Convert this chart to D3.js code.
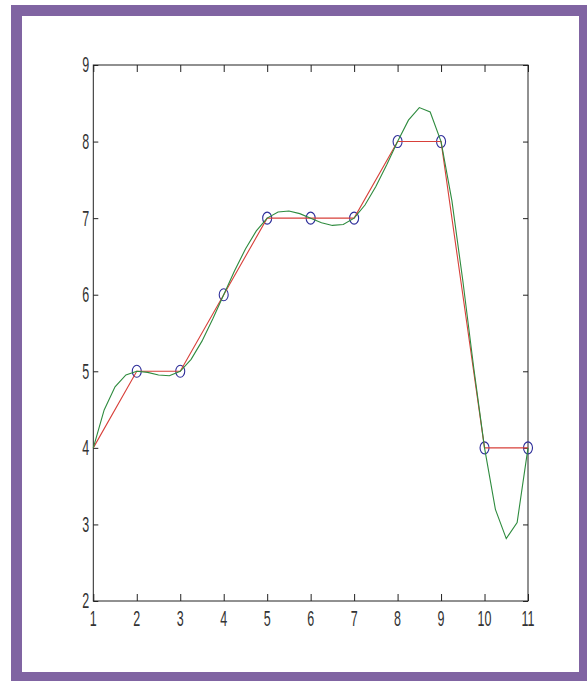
<!DOCTYPE html>
<html>
<head>
<meta charset="utf-8">
<script src="https://cdn.jsdelivr.net/npm/d3@7"></script>
<style>
  html, body { margin: 0; padding: 0; background: #ffffff; }
  svg { display: block; }
</style>
</head>
<body>
<svg id="chart" width="587" height="681"></svg>
<script>
// ---- data ----
const xTicks = [1, 2, 3, 4, 5, 6, 7, 8, 9, 10, 11];
const yTicks = [2, 3, 4, 5, 6, 7, 8, 9];
const knotX = [1, 2, 3, 4, 5, 6, 7, 8, 9, 10, 11];
const knotY = [4, 5, 5, 6, 7, 7, 7, 8, 8, 4, 4];
const markerX = [2, 3, 4, 5, 6, 7, 8, 9, 10, 11];
const markerY = [5, 5, 6, 7, 7, 7, 8, 8, 4, 4];
const splineX = [1, 1.25, 1.5, 1.75, 2, 2.25, 2.5, 2.75, 3, 3.25, 3.5, 3.75, 4, 4.25, 4.5, 4.75,
  5, 5.25, 5.5, 5.75, 6, 6.25, 6.5, 6.75, 7, 7.25, 7.5, 7.75, 8, 8.25, 8.5, 8.75,
  9, 9.25, 9.5, 9.75, 10, 10.25, 10.5, 10.75, 11];
const splineY = [4, 4.495, 4.798, 4.952, 5, 4.986, 4.952, 4.942, 5, 5.156, 5.394, 5.685,
  6, 6.312, 6.597, 6.834, 7, 7.081, 7.093, 7.059, 7, 6.941, 6.905, 6.916,
  7, 7.171, 7.413, 7.698, 8, 8.280, 8.444, 8.386, 8, 7.225, 6.185, 5.053,
  4, 3.197, 2.815, 3.025, 4];

// ---- layout ----
const svg = d3.select("#chart");
const L = 93.3, R = 528, T = 65, B = 601;

// purple frame
svg.append("rect").attr("x", 11).attr("y", 5).attr("width", 576).attr("height", 676).attr("fill", "#8064a2");
svg.append("rect").attr("x", 22).attr("y", 16).attr("width", 557).attr("height", 656).attr("fill", "#ffffff");

const x = d3.scaleLinear().domain([1, 11]).range([L, R]);
const y = d3.scaleLinear().domain([2, 9]).range([B, T]);

const g = svg.append("g");

// ticks (inward, all four sides)
const axisColor = "#222";
const tickStyle = sel => sel.select(".domain").remove();
g.append("g").attr("transform", `translate(0,${B})`)
  .call(d3.axisBottom(x).tickValues(xTicks).tickSize(-7).tickFormat(""))
  .call(tickStyle).selectAll("line").attr("stroke", axisColor);
g.append("g").attr("transform", `translate(0,${T})`)
  .call(d3.axisTop(x).tickValues(xTicks).tickSize(-7).tickFormat(""))
  .call(tickStyle).selectAll("line").attr("stroke", axisColor);
g.append("g").attr("transform", `translate(${L},0)`)
  .call(d3.axisLeft(y).tickValues(yTicks).tickSize(-5).tickFormat(""))
  .call(tickStyle).selectAll("line").attr("stroke", axisColor);
g.append("g").attr("transform", `translate(${R},0)`)
  .call(d3.axisRight(y).tickValues(yTicks).tickSize(-5).tickFormat(""))
  .call(tickStyle).selectAll("line").attr("stroke", axisColor);

// tick labels (tall narrow glyphs)
const fs = 12.5, sy = 1.75;
xTicks.forEach(v => {
  svg.append("text")
    .attr("transform", `translate(${x(v)},${B + 9}) scale(1,${sy})`)
    .attr("text-anchor", "middle")
    .attr("dominant-baseline", "hanging")
    .attr("font-family", "Liberation Sans, Arial, sans-serif")
    .attr("font-size", fs)
    .attr("fill", "#333")
    .text(v);
});
yTicks.forEach(v => {
  svg.append("text")
    .attr("transform", `translate(${L - 4},${y(v)}) scale(1,${sy})`)
    .attr("text-anchor", "end")
    .attr("dominant-baseline", "central")
    .attr("font-family", "Liberation Sans, Arial, sans-serif")
    .attr("font-size", fs)
    .attr("fill", "#333")
    .text(v);
});

// box
g.append("rect").attr("x", L).attr("y", T).attr("width", R - L).attr("height", B - T)
  .attr("fill", "none").attr("stroke", axisColor).attr("stroke-width", 1);

// markers
markerX.forEach((mx, i) => {
  g.append("ellipse")
    .attr("cx", x(mx)).attr("cy", y(markerY[i]))
    .attr("rx", 4.5).attr("ry", 6)
    .attr("fill", "none").attr("stroke", "#2e2e9a").attr("stroke-width", 1.1);
});

// linear (red)
const line = d3.line().x(d => x(d[0])).y(d => y(d[1]));
g.append("path")
  .datum(knotX.map((v, i) => [v, knotY[i]]))
  .attr("d", line).attr("fill", "none").attr("stroke", "#d8403a").attr("stroke-width", 1.1);

// spline (green)
g.append("path")
  .datum(splineX.map((v, i) => [v, splineY[i]]))
  .attr("d", line).attr("fill", "none").attr("stroke", "#2e8b3e").attr("stroke-width", 1.1);
</script>
</body>
</html>
